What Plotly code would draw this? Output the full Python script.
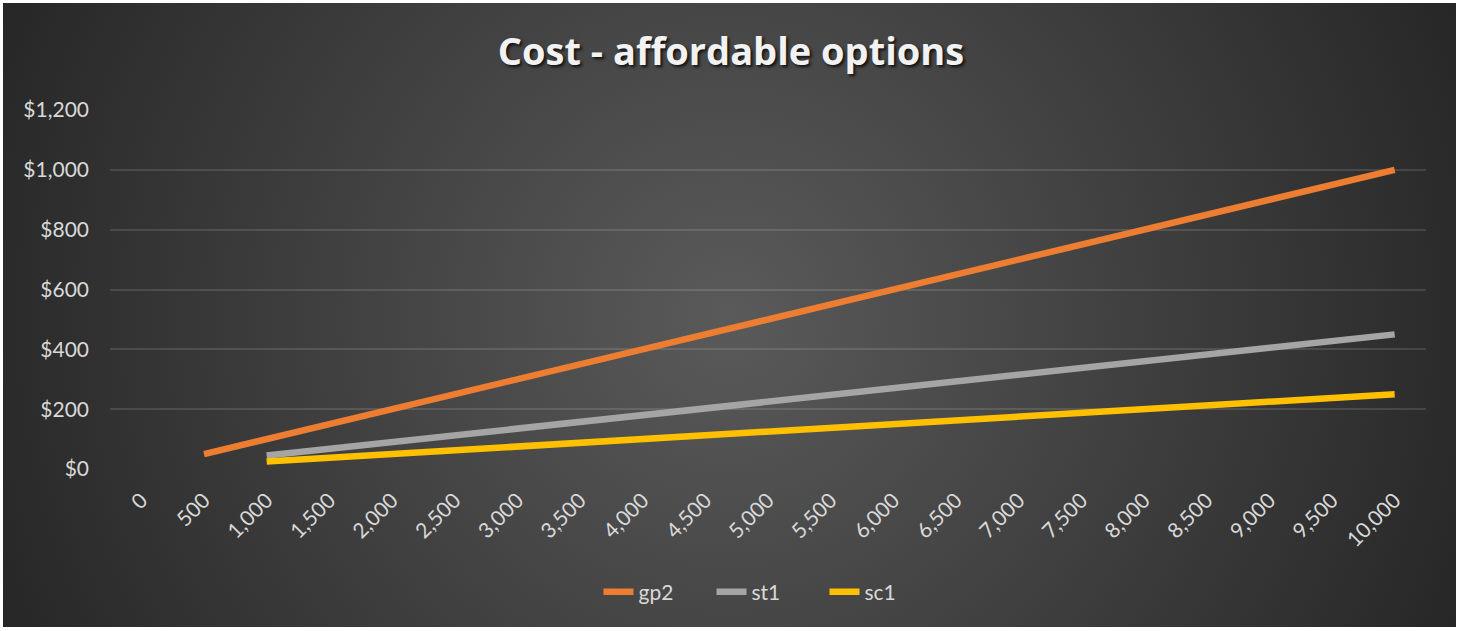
import base64
import plotly.graph_objects as go

# ---- data ----
categories = ["0", "500", "1,000", "1,500", "2,000", "2,500", "3,000", "3,500", "4,000",
              "4,500", "5,000", "5,500", "6,000", "6,500", "7,000", "7,500", "8,000",
              "8,500", "9,000", "9,500", "10,000"]
gp2 = [None, 50, 100, 150, 200, 250, 300, 350, 400, 450, 500, 550, 600, 650, 700,
       750, 800, 850, 900, 950, 1000]
st1 = [None, None, 45, 67.5, 90, 112.5, 135, 157.5, 180, 202.5, 225, 247.5, 270,
       292.5, 315, 337.5, 360, 382.5, 405, 427.5, 450]
sc1 = [None, None, 25, 37.5, 50, 62.5, 75, 87.5, 100, 112.5, 125, 137.5, 150,
       162.5, 175, 187.5, 200, 212.5, 225, 237.5, 250]
series_names = ["gp2", "st1", "sc1"]
y_ticks = [0, 200, 400, 600, 800, 1000, 1200]
y_tick_labels = ["$0", "$200", "$400", "$600", "$800", "$1,000", "$1,200"]

colors = ["#ED7D31", "#A5A5A5", "#FFC000"]

W, H = 1462, 631
L, R, T, B = 110, 36, 110, 162
FONT = "Lato, 'Open Sans', sans-serif"

fig = go.Figure()
for name, vals, col in zip(series_names, [gp2, st1, sc1], colors):
    fig.add_trace(go.Scatter(
        x=categories, y=vals, name=name, mode="lines",
        line=dict(color=col, width=6.5), connectgaps=False,
    ))

# radial gradient background as an SVG image
bx0, by0, bx1, by1 = 3, 3, 1456, 627
bw, bh = bx1 - bx0, by1 - by0
svg = (
    f'<svg xmlns="http://www.w3.org/2000/svg" width="{bw}" height="{bh}">'
    f'<defs><radialGradient id="g" gradientUnits="userSpaceOnUse" cx="{bw*0.5}" cy="{bh*0.5}" r="800">'
    '<stop offset="0" stop-color="#5a5a5a"/><stop offset="1" stop-color="#262626"/>'
    '</radialGradient></defs>'
    f'<rect x="0" y="0" width="{bw}" height="{bh}" fill="url(#g)"/></svg>'
)
uri = "data:image/svg+xml;base64," + base64.b64encode(svg.encode()).decode()
pw, ph = W - L - R, H - T - B
fig.add_layout_image(dict(
    source=uri, xref="paper", yref="paper",
    x=(bx0 - L) / pw, y=(H - B - by0) / ph,
    sizex=bw / pw, sizey=bh / ph,
    xanchor="left", yanchor="top", sizing="stretch", layer="below",
))

fig.update_layout(
    width=W, height=H,
    margin=dict(l=L, r=R, t=T, b=B),
    paper_bgcolor="#ffffff",
    plot_bgcolor="rgba(0,0,0,0)",
    font=dict(family=FONT, color="#d9d9d9", size=20),
    title=dict(
        text="<b>Cost - affordable options</b>",
        x=0.5, xanchor="center", y=1 - 52 / H, yanchor="middle",
        font=dict(family="'Open Sans', sans-serif", size=38, color="#f2f2f2",
                  shadow="2px 2px 3px #111"),
    ),
    showlegend=True,
    legend=dict(
        orientation="h", x=0.5, xanchor="center",
        y=(H - B - 592) / ph, yanchor="middle",
        font=dict(size=21, color="#d9d9d9"),
        bgcolor="rgba(0,0,0,0)", itemwidth=30,
        entrywidth=68, entrywidthmode="pixels",
    ),
    xaxis=dict(
        type="category", categoryorder="array", categoryarray=categories,
        range=[-0.5, len(categories) - 0.5],
        tickangle=-45, showgrid=False, zeroline=False,
        showline=False, ticks="", ticklabelstandoff=14,
        tickfont=dict(size=21, color="#d9d9d9"),
    ),
    yaxis=dict(
        range=[0, 1200], tickvals=y_ticks, ticktext=y_tick_labels,
        showgrid=True, gridcolor="rgba(255,255,255,0.12)", gridwidth=1.5,
        zeroline=False, showline=False, ticks="", ticklabelstandoff=20,
        tickfont=dict(size=21, color="#d9d9d9"),
    ),
)

fig.write_html("out.html")
